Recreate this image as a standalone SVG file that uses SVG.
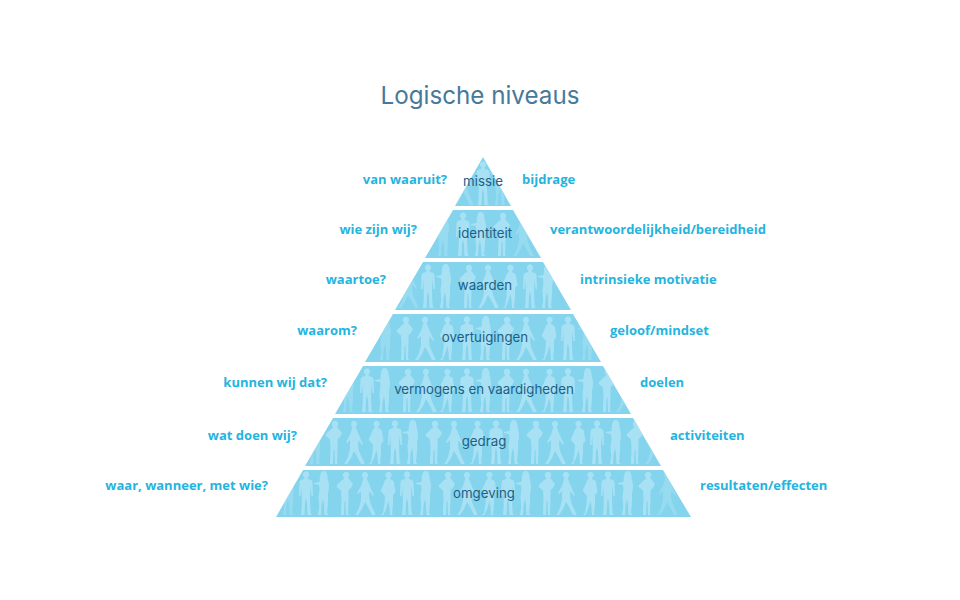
<svg xmlns="http://www.w3.org/2000/svg" width="960" height="600" viewBox="0 0 960 600">
<style>
.band{fill:#85d4ee}
.fig{fill:#a9e1f4}
.dim{opacity:.5}
.lab{font-family:"Inter","Noto Sans",sans-serif;font-size:13.3px;fill:#1f5f85;text-anchor:middle}
.side{font-family:"Open Sans","Noto Sans",sans-serif;font-weight:700;font-size:13px;fill:#24b4e0}
.end{text-anchor:end}
.title{font-family:"Inter","Noto Sans",sans-serif;font-size:24.2px;fill:#47799a;text-anchor:middle}
</style>
<defs>
<path id="man" d="M0 0.300A3.200 3.200 0 0 1 1.500 6.300L2 8L5 9Q6.500 9.500 6.500 12L7 25L5.500 25L4.500 15L4 26L4.300 36L4.800 43L6 44L1.500 44L1 32L0 27L-1 32L-1.500 44L-5 44L-4.300 36L-4.200 26L-4.800 15L-5.500 25L-7 25L-6.500 12Q-6.500 9.500 -5 9L-2 8L-1.500 6.300A3.200 3.200 0 0 1 0 0.300Z"/>
<path id="woman" d="M0.500 0C3.500 0 4.500 3 4.500 6C4.500 9 6 11 6 15C6 19 5 21 5 24C5.500 30 4.500 36 4 42L5.500 44L1.500 44L1 34L0 28L-1.500 34L-2 44L-5 44L-3.800 36L-4.500 26L-3.500 19L-4 14L-9 13L-9 12L-3.500 11C-3 8 -3.500 0 0.500 0Z"/>
<path id="chin" d="M1 0.800A3.200 3.200 0 0 1 3 6.500L4 8L8 13L6 17L3.500 19L3.500 28L3 43L4.500 44L1 44L0.500 30L-0.500 30L-1 44L-4 44L-3.500 28L-4 19.500L-8 16Q-8.500 15 -8 14L-3 9L-1 8L-1 6.500A3.200 3.200 0 0 1 1 0.800Z"/>
<path id="walk" d="M0 0.800A3.200 3.200 0 0 1 1.500 6.800L2 8L4 13L7 20L9 24L8 25L4.500 20L4 25L5 31L8 38L10.500 43L10 44L7 44L3 36L0 31L-3 38L-7 44L-10 44L-9 43L-6 37L-4 29L-4 20L-7 23L-8 22L-4 15L-2.500 10L-2 8L-1.500 6.800A3.200 3.200 0 0 1 0 0.800Z"/>
<path id="hip" d="M0.500 0.800A3.200 3.200 0 0 1 2 6.800L2 8L5 9.500Q6 10 6 12L7.500 21L5 24L5 32L4.500 38L4 43L5.500 44L2 44L1.500 36L0.500 30L-2 38L-4.500 44L-7 44L-5 42L-3.500 33L-3 25L-7 20Q-7.500 19 -6.500 18L-4 12Q-3.500 9.500 -1.500 8L-1 6.800A3.200 3.200 0 0 1 0.500 0.800Z"/>
<clipPath id="c1"><polygon points="483,157 511,206 455,206"/></clipPath>
<clipPath id="c2"><polygon points="453,210 513,210 541,258 425,258"/></clipPath>
<clipPath id="c3"><polygon points="423,262 543,262 571,310 395,310"/></clipPath>
<clipPath id="c4"><polygon points="393,314 573,314 601,362 365,362"/></clipPath>
<clipPath id="c5"><polygon points="363,366 603,366 631,414 335,414"/></clipPath>
<clipPath id="c6"><polygon points="333,418 633,418 661,466 305,466"/></clipPath>
<clipPath id="c7"><polygon points="303,470 663,470 691,517 276,517"/></clipPath>
</defs>
<text id="title" class="title" x="480" y="104">Logische niveaus</text>
<g id="node-missie">
<polygon class="band" points="483,157 511,206 455,206"/>
<g class="fig" clip-path="url(#c1)">
<use href="#walk" x="463" y="161" class="dim"/><use href="#man" x="483" y="161"/><use href="#woman" x="500" y="161" class="dim"/>
</g>
<text class="lab" x="483" y="186">missie</text>
<text class="side end" x="447" y="184">van waaruit?</text>
<text class="side" x="522" y="184">bijdrage</text>
</g>
<g id="node-identiteit">
<polygon class="band" points="453,210 513,210 541,258 425,258"/>
<g class="fig" clip-path="url(#c2)">
<use href="#woman" x="443" y="212" class="dim"/><use href="#man" x="463" y="212"/><use href="#woman" x="480" y="212"/><use href="#chin" x="502" y="212"/><use href="#walk" x="523" y="212" class="dim"/>
</g>
<text class="lab" x="485" y="238">identiteit</text>
<text class="side end" x="417" y="233.500">wie zijn wij?</text>
<text class="side" x="550" y="233.500">verantwoordelijkheid/bereidheid</text>
</g>
<g id="node-waarden">
<polygon class="band" points="423,262 543,262 571,310 395,310"/>
<g class="fig" clip-path="url(#c3)">
<use href="#walk" x="408" y="264" class="dim"/><use href="#man" x="428" y="264"/><use href="#woman" x="445" y="264"/><use href="#chin" x="468" y="264"/><use href="#walk" x="488" y="264"/><use href="#hip" x="510" y="264"/><use href="#man" x="530" y="264"/><use href="#woman" x="547" y="264"/>
</g>
<text class="lab" x="485" y="290">waarden</text>
<text class="side end" x="386" y="284">waartoe?</text>
<text class="side" x="580" y="284">intrinsieke motivatie</text>
</g>
<g id="node-overtuigingen">
<polygon class="band" points="393,314 573,314 601,362 365,362"/>
<g class="fig" clip-path="url(#c4)">
<use href="#woman" x="385" y="316" class="dim"/><use href="#chin" x="405" y="316"/><use href="#walk" x="425" y="316"/><use href="#hip" x="447" y="316"/><use href="#man" x="467" y="316"/><use href="#woman" x="485" y="316"/><use href="#chin" x="506" y="316"/><use href="#walk" x="526" y="316"/><use href="#hip" x="549" y="316"/><use href="#man" x="568" y="316"/><use href="#woman" x="587" y="316" class="dim"/>
</g>
<text class="lab" x="485" y="342">overtuigingen</text>
<text class="side end" x="357" y="335">waarom?</text>
<text class="side" x="610" y="335">geloof/mindset</text>
</g>
<g id="node-vermogens">
<polygon class="band" points="363,366 603,366 631,414 335,414"/>
<g class="fig" clip-path="url(#c5)">
<use href="#woman" x="348" y="368" class="dim"/><use href="#man" x="367" y="368"/><use href="#woman" x="384" y="368"/><use href="#chin" x="407" y="368"/><use href="#walk" x="426" y="368"/><use href="#hip" x="447" y="368"/><use href="#man" x="467" y="368"/><use href="#woman" x="485" y="368"/><use href="#chin" x="506" y="368"/><use href="#walk" x="526" y="368"/><use href="#hip" x="549" y="368"/><use href="#man" x="568" y="368"/><use href="#woman" x="587" y="368"/><use href="#chin" x="607" y="368"/><use href="#walk" x="626" y="368" class="dim"/>
</g>
<text class="lab" x="484" y="394">vermogens en vaardigheden</text>
<text class="side end" x="327" y="387">kunnen wij dat?</text>
<text class="side" x="640" y="387">doelen</text>
</g>
<g id="node-gedrag">
<polygon class="band" points="333,418 633,418 661,466 305,466"/>
<g class="fig" clip-path="url(#c6)">
<use href="#woman" x="315" y="420" class="dim"/><use href="#chin" x="334" y="420"/><use href="#walk" x="354" y="420"/><use href="#hip" x="376" y="420"/><use href="#man" x="395" y="420"/><use href="#woman" x="412" y="420"/><use href="#chin" x="434" y="420"/><use href="#walk" x="454" y="420"/><use href="#hip" x="477" y="420"/><use href="#man" x="496" y="420"/><use href="#woman" x="513" y="420"/><use href="#chin" x="535" y="420"/><use href="#walk" x="555" y="420"/><use href="#hip" x="578" y="420"/><use href="#man" x="597" y="420"/><use href="#woman" x="615" y="420"/><use href="#chin" x="635" y="420"/><use href="#walk" x="655" y="420" class="dim"/>
</g>
<text class="lab" x="484" y="446">gedrag</text>
<text class="side end" x="297" y="440">wat doen wij?</text>
<text class="side" x="670" y="440">activiteiten</text>
</g>
<g id="node-omgeving">
<polygon class="band" points="303,470 663,470 691,517 276,517"/>
<g class="fig" clip-path="url(#c7)">
<use href="#woman" x="288" y="471" class="dim"/><use href="#man" x="306" y="471"/><use href="#woman" x="323" y="471"/><use href="#chin" x="345" y="471"/><use href="#walk" x="365" y="471"/><use href="#hip" x="388" y="471"/><use href="#man" x="407" y="471"/><use href="#woman" x="425" y="471"/><use href="#chin" x="447" y="471"/><use href="#walk" x="467" y="471"/><use href="#hip" x="489" y="471"/><use href="#man" x="508" y="471"/><use href="#woman" x="525" y="471"/><use href="#chin" x="547" y="471"/><use href="#walk" x="566" y="471"/><use href="#hip" x="590" y="471"/><use href="#man" x="608" y="471"/><use href="#woman" x="627" y="471"/><use href="#chin" x="647" y="471"/><use href="#walk" x="667" y="471" class="dim"/>
</g>
<text class="lab" x="484" y="498">omgeving</text>
<text class="side end" x="268" y="490">waar, wanneer, met wie?</text>
<text class="side" x="700" y="490">resultaten/effecten</text>
</g>
</svg>
